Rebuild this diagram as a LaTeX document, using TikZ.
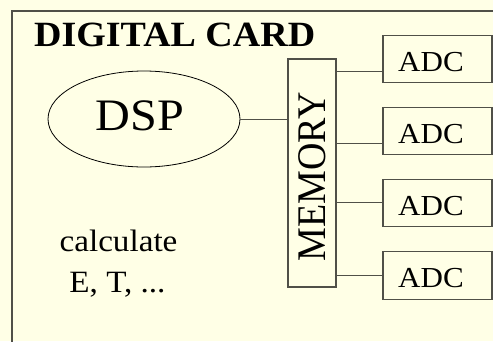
\documentclass[tikz,border=0pt]{standalone}
\usepackage{fontspec}
\setmainfont{Liberation Serif}
\usetikzlibrary{shapes.geometric,calc}
\definecolor{bgyellow}{RGB}{255,255,230}
\definecolor{framegray}{RGB}{80,80,72}
\tikzset{
  boxstyle/.style={draw=framegray, line width=1.4pt, fill=bgyellow, rectangle, inner sep=0pt},
  wire/.style={draw=framegray, line width=1pt},
  txt/.style={inner sep=0pt, text=black, xscale=1.07},
}
\begin{document}
\begin{tikzpicture}[x=1pt,y=-1pt]
\useasboundingbox[fill=bgyellow] (0,0) rectangle (493,341);
% outer frame
\draw[draw=framegray, line width=1.4pt] (12,345) -- (12,11) -- (500,11);
% title
\node[txt, anchor=base west, font=\fontsize{35.5}{40}\selectfont\bfseries] (title) at (34,46) {DIGITAL CARD};
% DSP
\node[draw=black, line width=0.8pt, ellipse, minimum width=192pt, minimum height=96pt, inner sep=0pt] (dsp) at (144,119) {};
\node[txt, anchor=base, font=\fontsize{45}{50}\selectfont] (dsptxt) at (140,130) {DSP};
% memory
\node[boxstyle, minimum width=48pt, minimum height=228pt] (mem) at (312,173) {};
\node[txt, rotate=90, font=\fontsize{38}{42}\selectfont] (memtxt) at (312,177) {MEMORY};
% ADCs
\foreach \i/\y in {1/59,2/131,3/203,4/275.5}{
  \node[boxstyle, minimum width=109pt, minimum height=47.5pt] (adc\i) at (437.5,\y) {};
  \node[txt, anchor=base, font=\fontsize{29}{32}\selectfont] (adctxt\i) at (431,\y+12) {ADC};
}
% connector points
\coordinate (c1) at ($(adc1.west)+(0,12)$);
\coordinate (c2) at ($(adc2.west)+(0,12)$);
\coordinate (c3) at ($(adc3.west)+(0,-1)$);
\coordinate (c4) at ($(adc4.west)+(0,-0.5)$);
\draw[wire] (dsp.east) -- (mem.west |- dsp.east);
\foreach \i in {1,2,3,4}{
  \draw[wire] (mem.east |- c\i) -- (c\i);
}
% calculate
\node[txt, anchor=base, font=\fontsize{31}{35}\selectfont] (calc1) at (118.5,251) {calculate};
\node[txt, anchor=base, font=\fontsize{31}{35}\selectfont] (calc2) at (117.5,292) {E, T, ...};
\end{tikzpicture}
\end{document}
